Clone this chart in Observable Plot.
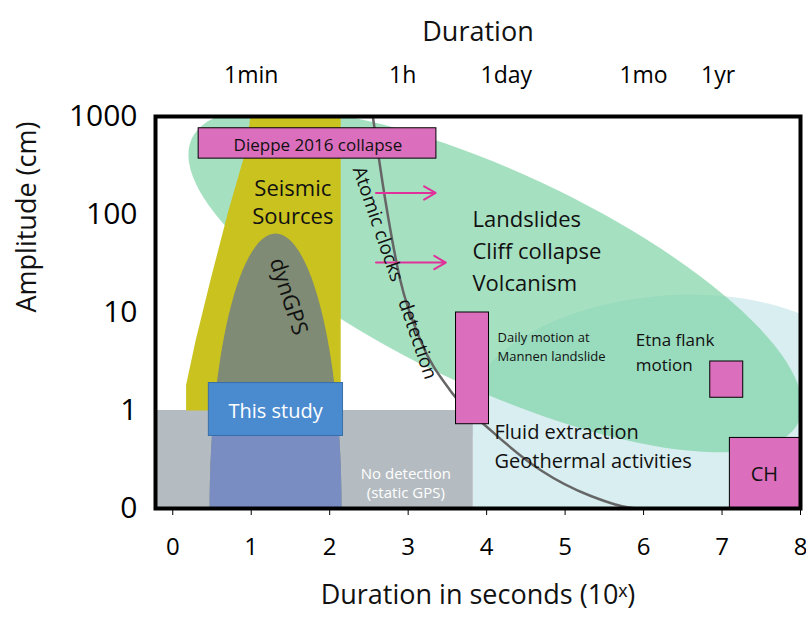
<!DOCTYPE html>
<html><head><meta charset="utf-8">
<script src="https://cdn.jsdelivr.net/npm/d3@7"></script>
<script src="https://cdn.jsdelivr.net/npm/@observablehq/plot@0.6"></script>
<style>body{margin:0;background:#fff;font-family:"Open Sans",sans-serif}</style>
</head><body><div id="chart"></div>
<script>
// x = log10(duration s), y = amplitude class index (0,1,10,100,1000)
var xTicks = [0, 1, 2, 3, 4, 5, 6, 7, 8];
var yTicks = [0, 1, 2, 3, 4];
var yLabels = ["0", "1", "10", "100", "1000"];
var topPos = [1.0, 2.93, 4.25, 6.0, 6.95];
var topLabels = ["1min", "1h", "1day", "1mo", "1yr"];

var yellow = [[0.17,1],[0.17,1.26],[0.29,1.71],[0.48,2.33],[0.71,3.04],[0.93,3.65],[0.99,4],[2.14,4],[2.14,1]];
var clockX = [2.55, 2.71, 2.9, 3.16, 3.54, 4.05, 4.69, 5.32, 5.96, 8];
var clockY = [4, 3.14, 2.33, 1.71, 1.2, 0.8, 0.39, 0.13, 0, 0];
var cyanRect = [{x1:3.83,x2:8,y1:0,y2:1}];
var grayRect = [{x1:-0.22,x2:3.83,y1:0,y2:1}];
var boxes = [
  {x1:0.46,x2:2.17,y1:0.74,y2:1.28,fill:"#4a8bd0",stroke:"#3a6ea8"},
  {x1:0.33,x2:3.36,y1:3.57,y2:3.88,fill:"#dc6fbd",stroke:"#000"},
  {x1:6.85,x2:7.27,y1:1.13,y2:1.5,fill:"#dc6fbd",stroke:"#000"},
  {x1:3.61,x2:4.03,y1:0.86,y2:2.0,fill:"#dc6fbd",stroke:"#000"},
  {x1:7.1,x2:8.0,y1:0,y2:0.72,fill:"#dc6fbd",stroke:"#000"}
];
var arrows = [{x1:2.59,x2:3.35,y:3.22},{x1:2.59,x2:3.48,y:2.51}];
var midLabels = [
  {x:1.53,y:3.14,t:"Seismic\nSources",s:22,c:"#111",r:0},
  {x:1.5,y:2.17,t:"dynGPS",s:22,c:"#111",r:72},
  {x:2.85,y:2.41,t:"Atomic clocks    detection",s:19,c:"#111",r:71},
  {x:2.97,y:0.27,t:"No detection\n(static GPS)",s:15,c:"#fff",r:0},
  {x:1.31,y:1.01,t:"This study",s:20,c:"#fff",r:0},
  {x:1.85,y:3.72,t:"Dieppe 2016 collapse",s:17,c:"#111",r:0},
  {x:7.54,y:0.37,t:"CH",s:20,c:"#111",r:0}
];
var startLabels = [
  {x:3.82,y:2.65,t:"Landslides\nCliff collapse\nVolcanism",s:22},
  {x:4.14,y:1.66,t:"Daily motion at\nMannen landslide",s:13},
  {x:5.9,y:1.61,t:"Etna flank\nmotion",s:17},
  {x:4.1,y:0.66,t:"Fluid extraction\nGeothermal activities",s:20}
];

var kx = 78.5, ky = 98; // px per unit, used to build ellipse outlines
function ellipse(cx, cy, rxPx, ryPx, angDeg, yMin) {
  var a = angDeg * Math.PI / 180, pts = [];
  for (var i = 0; i <= 120; i++) {
    var t = i / 120 * 2 * Math.PI;
    var ex = rxPx * Math.cos(t), ey = ryPx * Math.sin(t);
    var px = ex * Math.cos(a) - ey * Math.sin(a), py = ex * Math.sin(a) + ey * Math.cos(a);
    var p = [cx + px / kx, cy - py / ky];
    if (yMin != null) p[1] = Math.max(p[1], yMin);
    pts.push(p);
  }
  return pts;
}
function clipTop(pts, yMax) { return pts.map(p => [p[0], Math.min(p[1], yMax)]); }

var cyan = ellipse(6.3, 1.1, 200, 105, -5);
var green = ellipse(4.11, 2.33, 335, 108, 25);
var dyn = ellipse(1.31, 0, 66, 275, 0, 0);
var dynLow = clipTop(dyn, 1);
var P = {x: d => d[0], y: d => d[1], stroke: "none"};

var plot = Plot.plot({
  width: 806, height: 619,
  marginLeft: 155, marginRight: 6, marginTop: 116, marginBottom: 111,
  x: {domain: [-0.22, 8], axis: null},
  y: {domain: [0, 4], axis: null},
  style: {fontFamily: "Open Sans, sans-serif", background: "white"},
  marks: [
    Plot.rect(cyanRect, {x1: "x1", x2: "x2", y1: "y1", y2: "y2", fill: "#d8eef0"}),
    Plot.line(cyan, {...P, fill: "#d8eef0", clip: true}),
    Plot.rect(grayRect, {x1: "x1", x2: "x2", y1: "y1", y2: "y2", fill: "#b5bcc1"}),
    Plot.line(green, {...P, fill: "#7fd3a6", fillOpacity: 0.7, clip: true}),
    Plot.line(yellow, {...P, fill: "#c9c21f"}),
    Plot.line(dyn, {...P, fill: "#7f8b74"}),
    Plot.line(dynLow, {...P, fill: "#7a8dc2"}),
    Plot.line(clockX.map((x, i) => ({x, y: clockY[i]})), {x: "x", y: "y", curve: "monotone-x", stroke: "#666", strokeWidth: 2.5}),
    Plot.rect(boxes, {x1: "x1", x2: "x2", y1: "y1", y2: "y2", fill: d => d.fill, stroke: d => d.stroke, strokeWidth: 1}),
    Plot.arrow(arrows, {x1: "x1", x2: "x2", y1: "y", y2: "y", stroke: "#e0309a", strokeWidth: 2, headLength: 10}),
    Plot.text(midLabels, {x: "x", y: "y", text: "t", fontSize: d => d.s, fill: d => d.c, textAnchor: "middle", rotate: d => d.r, lineHeight: 1.3}),
    Plot.text(startLabels, {x: "x", y: "y", text: "t", fontSize: d => d.s, fill: "#111", textAnchor: "start", lineHeight: 1.45}),
    Plot.frame({stroke: "#000", strokeWidth: 4}),
    Plot.axisX(xTicks, {anchor: "bottom", tickSize: 7, fontSize: 24, tickPadding: 22, label: null}),
    Plot.axisY(yTicks, {anchor: "left", tickSize: 0, fontSize: 30, tickPadding: 18, tickFormat: (d, i) => yLabels[i], label: null}),
    Plot.axisX(topPos, {anchor: "top", tickSize: 0, fontSize: 23, tickPadding: 34, tickFormat: (d, i) => topLabels[i], label: null}),
    Plot.text(["Duration in seconds (10ˣ)"], {frameAnchor: "bottom", dy: 95, fontSize: 27, fill: "#111"}),
    Plot.text(["Duration"], {frameAnchor: "top", dy: -95, fontSize: 27, fill: "#111"}),
    Plot.text(["Amplitude (cm)"], {frameAnchor: "left", dx: -128, rotate: -90, fontSize: 27, fill: "#111"})
  ]
});
document.getElementById("chart").append(plot);
</script></body></html>
